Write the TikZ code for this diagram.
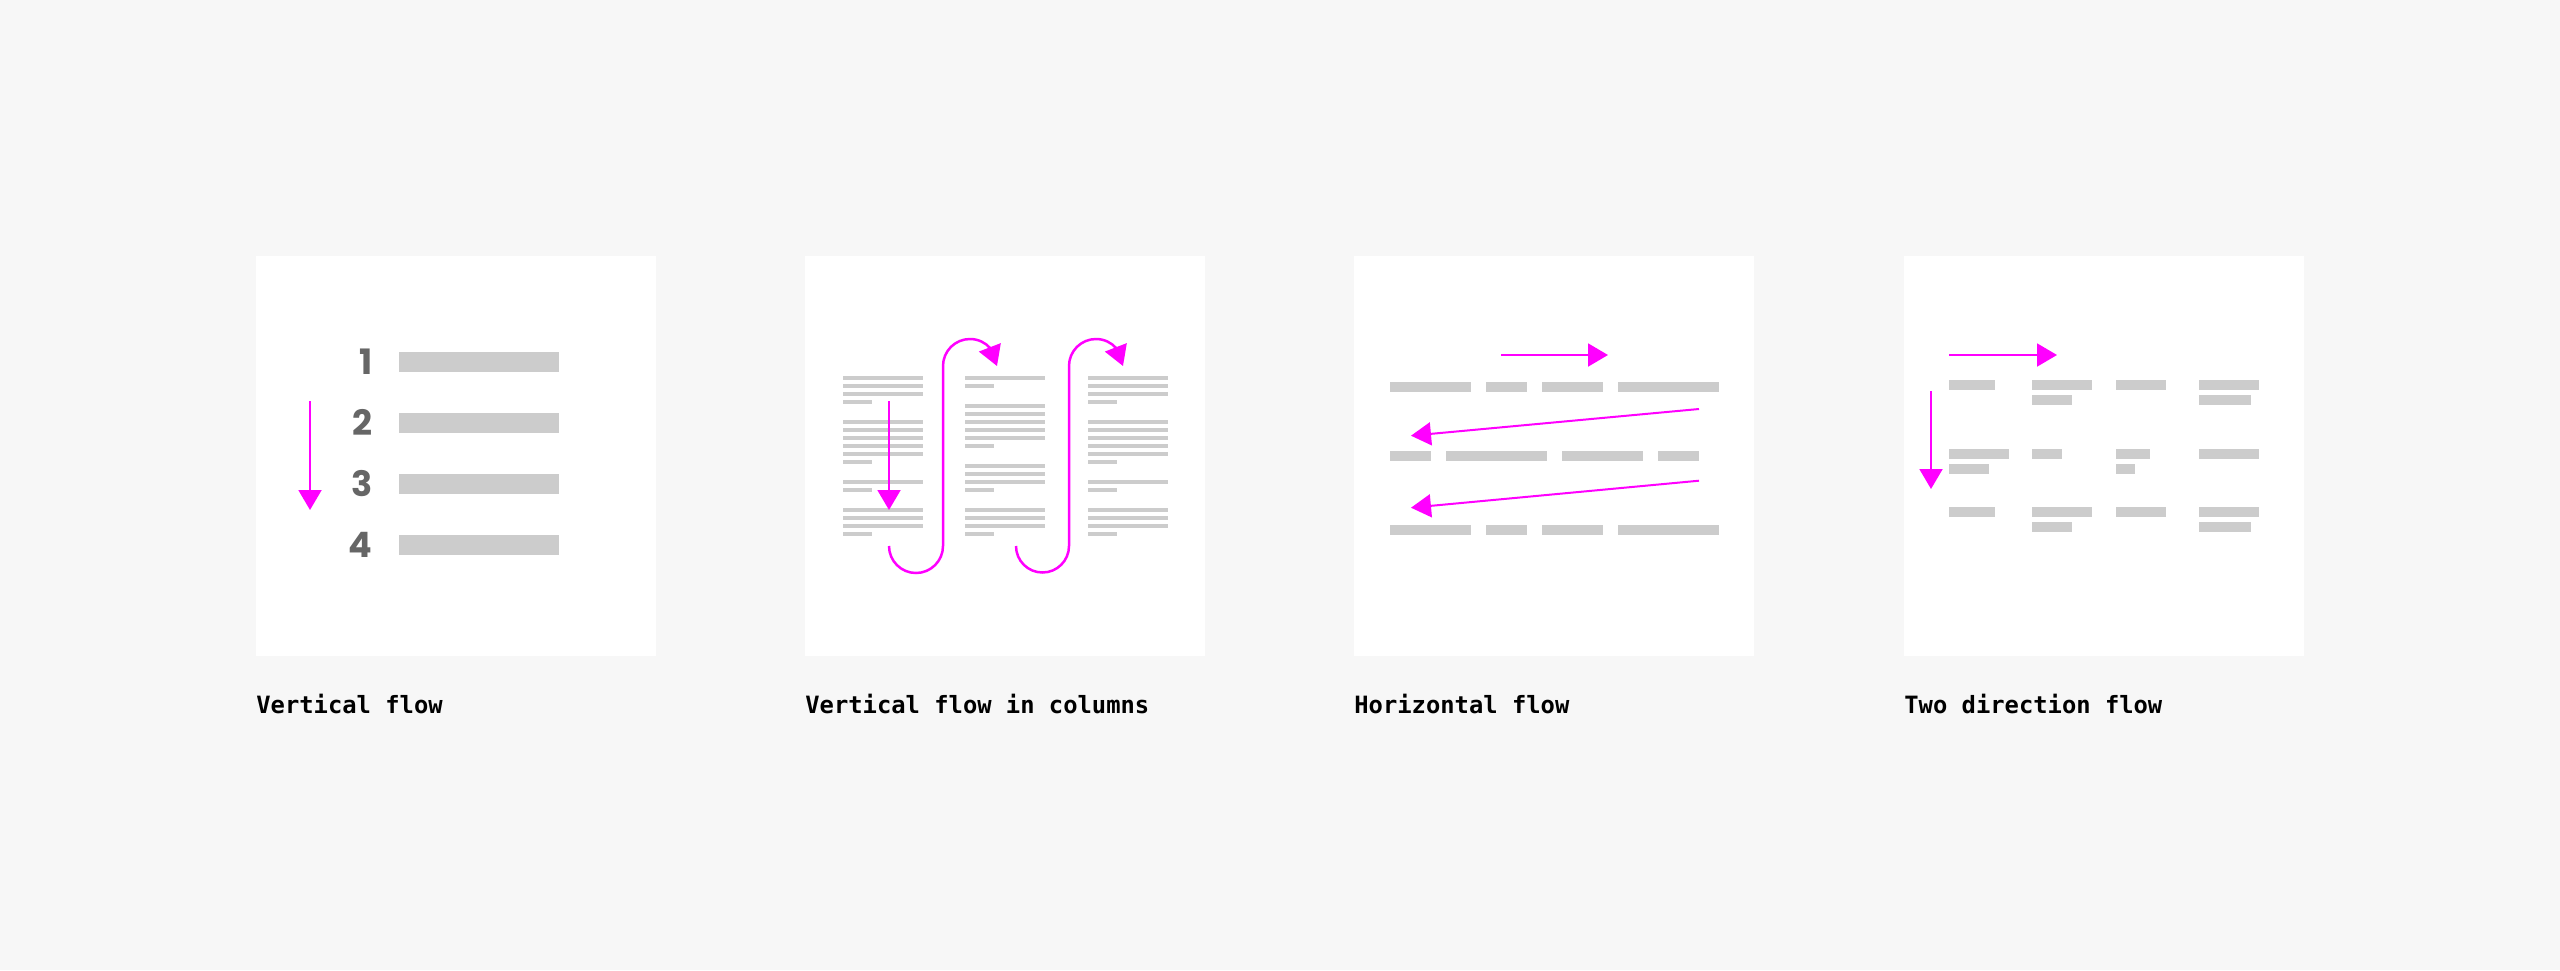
\documentclass[tikz,border=0pt]{standalone}
\usepackage{fontspec}
\setmonofont{DejaVu Sans Mono}
\newfontfamily\numfont{Poppins}
\usetikzlibrary{arrows.meta,bending}
\definecolor{pagebg}{HTML}{F7F7F7}
\definecolor{bargray}{HTML}{CCCCCC}
\definecolor{numgray}{HTML}{666666}
\definecolor{flowmag}{HTML}{FF00FF}
\tikzset{
  flowarrow/.style={draw=flowmag, line width=1pt, -{Triangle[length=10pt,width=11.5pt]}},
  flowcurve/.style={flowarrow, line width=1.25pt},
  caption/.style={anchor=base west, inner sep=0pt, font=\fontsize{11.9pt}{14pt}\ttfamily\bfseries},
  numlabel/.style={anchor=base east, inner sep=0pt, text=numgray, font=\fontsize{17.5pt}{20pt}\numfont\bfseries}
}
\begin{document}
\begin{tikzpicture}[x=0.5pt, y=-0.5pt, line join=round]
	\fill[pagebg] (0,0) rectangle (2560,970);
	\useasboundingbox (0,0) rectangle (2560,970);
	% white cards
	\foreach \cx in {256,805,1354,1904}
		\fill[white] (\cx,256) rectangle ++(400,400);
	
	% --- vertical flow
	\foreach \n/\yc in {1/362,2/423,3/484,4/545}{
		\fill[bargray] (399,\yc-10) rectangle (559,\yc+10);
		\node[numlabel] (num\n) at (373,\yc+12.5) {\n};
	}
	\coordinate (vtop) at (310,401);
	\coordinate (vbot) at (310,510);
	\draw[flowarrow] (vtop)--(vbot);
	\node[caption] (capA) at (256,713) {Vertical flow};
	
	% --- vertical flow in columns
	\foreach \x in {843,1088}{
		\foreach \y in {377.7,385.7,393.7,421.7,429.7,437.7,445.7,453.7,481.7,509.7,517.7,525.7}
			\fill[bargray] (\x,\y-2) rectangle ++(80,4);
		\foreach \y in {401.7,461.7,489.7,533.7}
			\fill[bargray] (\x,\y-2) rectangle ++(29,4);
	}
	\foreach \y in {377.7,405.7,413.7,421.7,429.7,437.7,465.7,473.7,481.7,509.7,517.7,525.7}
		\fill[bargray] (965,\y-2) rectangle ++(80,4);
	\foreach \y in {385.7,445.7,489.7,533.7}
		\fill[bargray] (965,\y-2) rectangle ++(29,4);
	\coordinate (ctop) at (889,401);
	\coordinate (cbot) at (889,510);
	\draw[flowarrow] (ctop)--(cbot);
	\coordinate (sA) at (889,546);
	\coordinate (sB) at (1016,546);
	\draw[flowcurve] (sA) arc[start angle=180, end angle=0, radius=27] -- (943,366)
		arc[start angle=180, end angle=360, radius=27];
	\draw[flowcurve] (sB) arc[start angle=180, end angle=0, radius=26.5] -- (1069,366)
		arc[start angle=180, end angle=360, radius=27];
	\node[caption] (capB) at (805,713) {Vertical flow in columns};
	
	% --- horizontal flow
	\foreach \y in {382,525}
		\foreach \a/\b in {1390/1471,1486/1527,1542/1603,1618/1719}
			\fill[bargray] (\a,\y) rectangle (\b,\y+10);
	\foreach \a/\b in {1390/1431,1446/1547,1562/1643,1658/1699}
		\fill[bargray] (\a,451) rectangle (\b,461);
	\coordinate (hA1) at (1501,355);
	\coordinate (hA2) at (1608,355);
	\coordinate (hB1) at (1699,409);
	\coordinate (hB2) at (1411,435.7);
	\coordinate (hC1) at (1699,480.7);
	\coordinate (hC2) at (1411,507.7);
	\draw[flowarrow] (hA1)--(hA2);
	\draw[flowarrow] (hB1)--(hB2);
	\draw[flowarrow] (hC1)--(hC2);
	\node[caption] (capC) at (1354,713) {Horizontal flow};
	
	% --- two direction flow
	\foreach \y in {380,507}{
		\foreach \a/\w in {1949/46,2032/60,2116/50,2199/60}
			\fill[bargray] (\a,\y) rectangle ++(\w,10);
		\foreach \a/\w in {2032/40,2199/52}
			\fill[bargray] (\a,\y+15) rectangle ++(\w,10);
	}
	\foreach \a/\w in {1949/60,2032/30,2116/34,2199/60}
		\fill[bargray] (\a,449) rectangle ++(\w,10);
	\foreach \a/\w in {1949/40,2116/19}
		\fill[bargray] (\a,464) rectangle ++(\w,10);
	\coordinate (tA1) at (1949,355);
	\coordinate (tA2) at (2057,355);
	\coordinate (tB1) at (1931,391);
	\coordinate (tB2) at (1931,489);
	\draw[flowarrow] (tA1)--(tA2);
	\draw[flowarrow] (tB1)--(tB2);
	\node[caption] (capD) at (1904,713) {Two direction flow};
\end{tikzpicture}
\end{document}
